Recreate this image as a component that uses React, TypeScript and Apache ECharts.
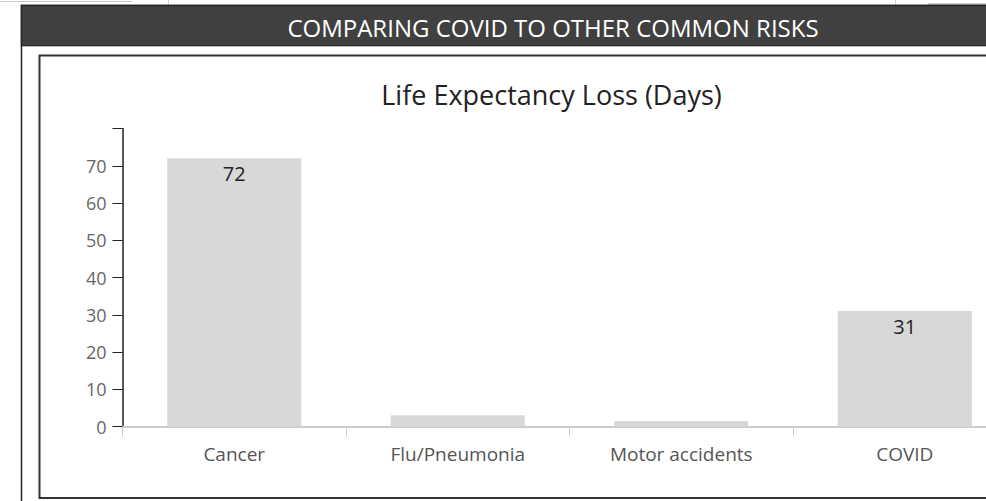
import React, { useEffect, useRef } from "react";
import * as echarts from "echarts";

const categories = ["Cancer", "Flu/Pneumonia", "Motor accidents", "COVID"];
const lossDays = [72, 3, 1.5, 31];
const labelShown = ["72", "", "", "31"];
const yTicks = [0, 10, 20, 30, 40, 50, 60, 70];
const headerText = "COMPARING COVID TO OTHER COMMON RISKS";
const chartTitle = "Life Expectancy Loss (Days)";

const W = 1090;
const H = 501;
const FONT = '"Open Sans", "Noto Sans", sans-serif';

export default function App() {
  const ref = useRef<HTMLDivElement>(null);
  useEffect(() => {
    if (!ref.current) return;
    const chart = echarts.init(ref.current, undefined, { renderer: "svg" });
    chart.setOption({
      animation: false,
      backgroundColor: "#ffffff",
      textStyle: { fontFamily: FONT },
      graphic: [
        { type: "line", z: 0, shape: { x1: 0, y1: 1.5, x2: 132, y2: 1.5 }, style: { stroke: "#c8c8c8", lineWidth: 1 } },
        { type: "line", z: 0, shape: { x1: 168.5, y1: 0, x2: 168.5, y2: 5 }, style: { stroke: "#d0d0d0", lineWidth: 1 } },
        { type: "line", z: 0, shape: { x1: 895.5, y1: 0, x2: 895.5, y2: 5 }, style: { stroke: "#d0d0d0", lineWidth: 1 } },
        { type: "line", z: 0, shape: { x1: 928, y1: 4, x2: W, y2: 4 }, style: { stroke: "#a0a0a0", lineWidth: 1 } },
        { type: "rect", z: 0, shape: { x: 21.5, y: 5.5, width: 1063, height: 520 }, style: { fill: "#ffffff", stroke: "#222222", lineWidth: 1.5 } },
        { type: "rect", z: 0, shape: { x: 21.5, y: 5.5, width: 1063, height: 40.5 }, style: { fill: "#404040", stroke: "#262626", lineWidth: 1.5 } },
        { type: "line", z: 0, shape: { x1: 22, y1: 46.5, x2: W, y2: 46.5 }, style: { stroke: "#b8b8b8", lineWidth: 1 } },
        { type: "rect", z: 0, shape: { x: 39.5, y: 55.5, width: 1024, height: 442.5 }, style: { fill: "none", stroke: "#333333", lineWidth: 2 } },
        {
          type: "text", z: 1, x: 553, y: 27,
          style: { text: headerText, fill: "#ffffff", font: `normal 24px ${FONT}`, textAlign: "center", textVerticalAlign: "middle" },
        },
        {
          type: "text", z: 1, x: 551.5, y: 94,
          style: { text: chartTitle, fill: "#222222", font: `27px ${FONT}`, textAlign: "center", textVerticalAlign: "middle" },
        },
      ],
      grid: { left: 122.5, top: 128.5, right: W - 1016.5, bottom: H - 426.5, containLabel: false },
      xAxis: {
        type: "category",
        data: categories,
        boundaryGap: true,
        axisLine: { show: true, lineStyle: { color: "#cccccc", width: 2 } },
        axisTick: { show: true, length: 10, alignWithLabel: false, lineStyle: { color: "#cccccc", width: 1 } },
        axisLabel: { color: "#555555", fontSize: 19, margin: 18, fontFamily: FONT },
        splitLine: { show: false },
      },
      yAxis: {
        type: "value",
        min: 0,
        max: 80,
        interval: 10,
        axisLine: { show: true, lineStyle: { color: "#222222", width: 1.5 } },
        axisTick: { show: true, length: 10, inside: false, lineStyle: { color: "#222222", width: 1 } },
        axisLabel: {
          color: "#666666",
          fontSize: 18,
          margin: 16,
          fontFamily: FONT,
          formatter: (v: number) => (yTicks.indexOf(v) >= 0 ? String(v) : ""),
        },
        splitLine: { show: false },
      },
      series: [
        {
          type: "bar",
          data: lossDays,
          barWidth: 134,
          itemStyle: { color: "#d8d8d8" },
          label: {
            show: true,
            position: "insideTop",
            distance: 5,
            color: "#222222",
            fontSize: 20,
            fontFamily: FONT,
            formatter: (p: any) => labelShown[p.dataIndex],
          },
        },
      ],
    });
    return () => chart.dispose();
  }, []);

  return (
    <div style={{ position: "fixed", left: 0, top: 0, width: 986, height: 501, overflow: "hidden", background: "#fff" }}>
      <div ref={ref} style={{ width: W, height: H }} />
    </div>
  );
}
